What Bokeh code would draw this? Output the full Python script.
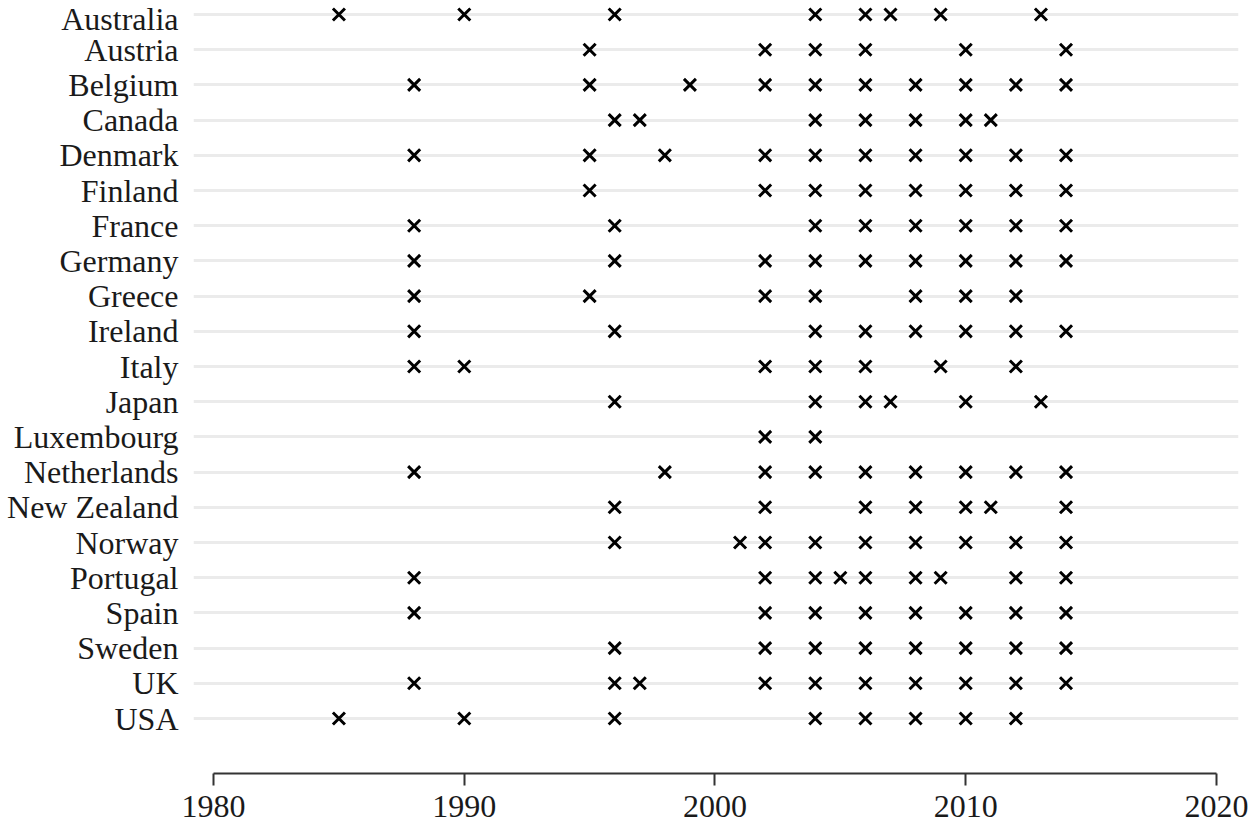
from bokeh.plotting import figure
from bokeh.models import Range1d, FixedTicker, ColumnDataSource
from bokeh.embed import file_html
from bokeh.resources import INLINE

countries = ["Australia", "Austria", "Belgium", "Canada", "Denmark", "Finland",
             "France", "Germany", "Greece", "Ireland", "Italy", "Japan",
             "Luxembourg", "Netherlands", "New Zealand", "Norway", "Portugal",
             "Spain", "Sweden", "UK", "USA"]

australia = [1985, 1990, 1996, 2004, 2006, 2007, 2009, 2013]
austria = [1995, 2002, 2004, 2006, 2010, 2014]
belgium = [1988, 1995, 1999, 2002, 2004, 2006, 2008, 2010, 2012, 2014]
canada = [1996, 1997, 2004, 2006, 2008, 2010, 2011]
denmark = [1988, 1995, 1998, 2002, 2004, 2006, 2008, 2010, 2012, 2014]
finland = [1995, 2002, 2004, 2006, 2008, 2010, 2012, 2014]
france = [1988, 1996, 2004, 2006, 2008, 2010, 2012, 2014]
germany = [1988, 1996, 2002, 2004, 2006, 2008, 2010, 2012, 2014]
greece = [1988, 1995, 2002, 2004, 2008, 2010, 2012]
ireland = [1988, 1996, 2004, 2006, 2008, 2010, 2012, 2014]
italy = [1988, 1990, 2002, 2004, 2006, 2009, 2012]
japan = [1996, 2004, 2006, 2007, 2010, 2013]
luxembourg = [2002, 2004]
netherlands = [1988, 1998, 2002, 2004, 2006, 2008, 2010, 2012, 2014]
new_zealand = [1996, 2002, 2006, 2008, 2010, 2011, 2014]
norway = [1996, 2001, 2002, 2004, 2006, 2008, 2010, 2012, 2014]
portugal = [1988, 2002, 2004, 2005, 2006, 2008, 2009, 2012, 2014]
spain = [1988, 2002, 2004, 2006, 2008, 2010, 2012, 2014]
sweden = [1996, 2002, 2004, 2006, 2008, 2010, 2012, 2014]
uk = [1988, 1996, 1997, 2002, 2004, 2006, 2008, 2010, 2012, 2014]
usa = [1985, 1990, 1996, 2004, 2006, 2008, 2010, 2012]

years_by_country = [australia, austria, belgium, canada, denmark, finland,
                    france, germany, greece, ireland, italy, japan, luxembourg,
                    netherlands, new_zealand, norway, portugal, spain, sweden,
                    uk, usa]

x_ticks = [1980, 1990, 2000, 2010, 2020]

xs, ys = [], []
for i, yrs in enumerate(years_by_country):
    for yr in yrs:
        xs.append(yr)
        ys.append(i)
src = ColumnDataSource(dict(x=xs, y=ys))

FONT = "Liberation Serif"
FS = "32px"

p = figure(width=1253, height=827, output_backend="svg", toolbar_location=None,
           x_range=Range1d(1979.2, 2020.88),
           y_range=Range1d(len(countries) - 1 + 1.5625, -0.398),
           min_border_left=193, min_border_right=15, min_border_top=0,
           min_border_bottom=54)
p.outline_line_color = None
p.background_fill_color = "white"
p.border_fill_color = "white"

p.scatter("x", "y", source=src, marker="x", size=17, line_width=3,
          line_color="black")

# x axis
xa = p.xaxis[0]
xa.ticker = FixedTicker(ticks=x_ticks)
xa.bounds = (1980, 2020)
xa.axis_line_color = "#333333"
xa.axis_line_width = 2
xa.major_tick_line_color = "#333333"
xa.major_tick_line_width = 2
xa.major_tick_in = 0
xa.major_tick_out = 12
xa.minor_tick_line_color = None
xa.major_label_standoff = 10
xa.major_label_text_font = FONT
xa.major_label_text_font_size = FS
xa.major_label_text_color = "#1a1a1a"

# y axis
ya = p.yaxis[0]
ya.ticker = FixedTicker(ticks=list(range(len(countries))))
ya.major_label_overrides = {i: c for i, c in enumerate(countries)}
ya.axis_line_color = None
ya.major_tick_line_color = None
ya.minor_tick_line_color = None
ya.major_tick_in = 0
ya.major_tick_out = 0
ya.major_label_standoff = 15
ya.major_label_text_font = FONT
ya.major_label_text_font_size = FS
ya.major_label_text_color = "#1a1a1a"

p.xgrid.grid_line_color = None
p.ygrid.ticker = FixedTicker(ticks=list(range(len(countries))))
p.ygrid.grid_line_color = "#ebebeb"
p.ygrid.grid_line_width = 3

open("out.html", "w").write(file_html(p, INLINE))
